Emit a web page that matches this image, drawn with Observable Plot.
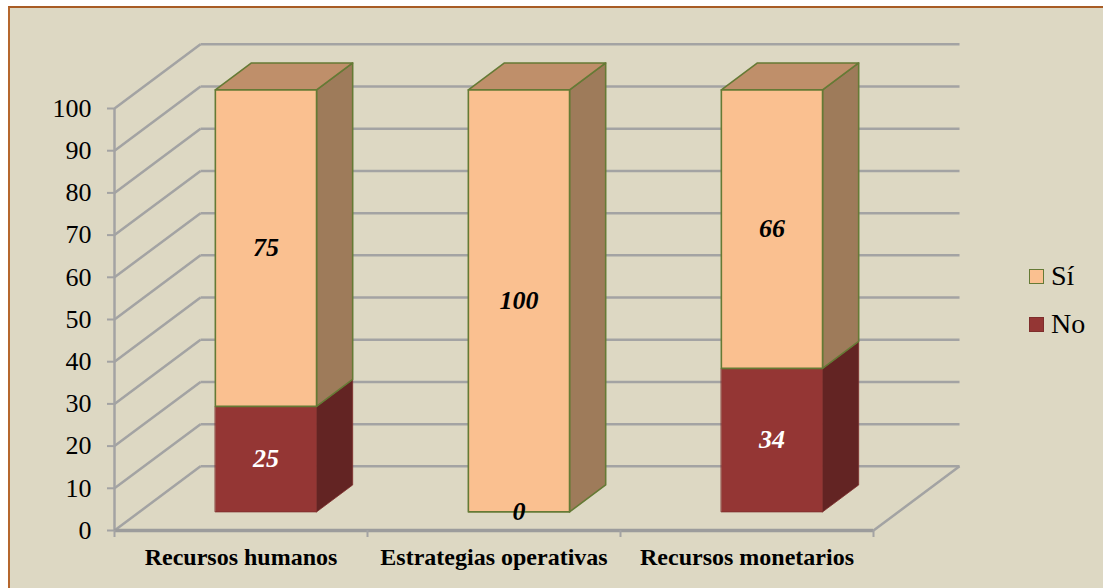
<!DOCTYPE html>
<html>
<head>
<meta charset="utf-8">
<script src="https://cdn.jsdelivr.net/npm/d3@7"></script>
<script src="https://cdn.jsdelivr.net/npm/@observablehq/plot@0.6"></script>
<style>
  body { margin:0; background:#fff; width:1103px; height:588px; overflow:hidden; position:relative;
         font-family:"Liberation Serif","Times New Roman",serif; }
  #bg { position:absolute; left:8px; top:6px; width:1120px; height:600px; background:#ddd8c3;
        border-left:2px solid #b5672e; border-top:2px solid #a85c25; }
  #chart { position:absolute; left:0; top:0; }
  .lg { position:absolute; font-size:28px; line-height:28px; color:#000; }
  .sw { position:absolute; width:13px; height:13px; }
</style>
</head>
<body>
<div id="bg"></div>
<div id="chart"></div>
<div id="legend"></div>
<script>
// ---- data ----
const categories = ["Recursos humanos", "Estrategias operativas", "Recursos monetarios"];
const seriesNames = ["Sí", "No"];
const siValues = [75, 100, 66];
const noValues = [25, 0, 34];
const yTicks = [0, 10, 20, 30, 40, 50, 60, 70, 80, 90, 100];

// ---- style / projection constants ----
const FONT = '"Liberation Serif","Times New Roman",serif';
const DX = 0.34;     // depth offset in category units (back wall)
const DY = 15.2;     // depth offset in value units (back wall)
const ZF = 0.29, ZB = 0.71, HW = 0.2;
const GRID = "#a3a3a3";
const COL = {
  "Sí": {front:"#fac090", side:"#9e7b5a", top:"#bf8f6a", stroke:"#657a35"},
  "No": {front:"#943634", side:"#632423", top:"#7a2c2a", stroke:"#7e2e2c"}
};

// stacked segments
const segs = [];
categories.forEach((c, i) => {
  const no = noValues[i], si = siValues[i];
  segs.push({cat:c, i, series:"No", value:no, y0:0, y1:no, top:false});
  segs.push({cat:c, i, series:"Sí", value:si, y0:no, y1:no+si, top:true});
});

const P = (X, Y, z) => ({x: X + z*DX, y: Y + z*DY});
const faces = [];
segs.forEach((s, k) => {
  if (s.value <= 0) return;
  const c = s.i + 0.5, L = c - HW, R = c + HW;
  const add = (face, pts) => pts.forEach(p => faces.push({id: k + face, face, series: s.series, ...p}));
  add("side", [P(R,s.y0,ZF), P(R,s.y0,ZB), P(R,s.y1,ZB), P(R,s.y1,ZF)]);
  if (s.top) add("top", [P(L,s.y1,ZF), P(R,s.y1,ZF), P(R,s.y1,ZB), P(L,s.y1,ZB)]);
  add("front", [P(L,s.y0,ZF), P(R,s.y0,ZF), P(R,s.y1,ZF), P(L,s.y1,ZF)]);
});

// walls
const wall = [];
yTicks.forEach(v => {
  wall.push({x1:0, y1:v, x2:DX, y2:v+DY});
  wall.push({x1:DX, y1:v+DY, x2:categories.length+DX, y2:v+DY});
});
wall.push({x1:categories.length, y1:0, x2:categories.length+DX, y2:DY});

const faceMarks = [];
["No", "Sí"].forEach(sn => {
  ["side", "top", "front"].forEach(f => {
    faceMarks.push(Plot.line(faces.filter(d => d.series === sn && d.face === f), {
      x:"x", y:"y", z:"id", curve:"linear-closed",
      fill: COL[sn][f], stroke: COL[sn].stroke, strokeWidth: sn === "Sí" ? 1.6 : 0.8
    }));
  });
});

const chart = Plot.plot({
  width:1103, height:588,
  marginLeft:114, marginRight:230, marginTop:108, marginBottom:58,
  x:{domain:[0, categories.length], axis:null},
  y:{domain:[0, 100], axis:null},
  style:{background:"transparent", fontFamily:FONT, overflow:"visible"},
  marks:[
    Plot.link(wall, {x1:"x1", y1:"y1", x2:"x2", y2:"y2", stroke:GRID, strokeWidth:2.5}),
    Plot.ruleX([0], {y1:0, y2:100, stroke:GRID, strokeWidth:2.5}),
    Plot.axisY({ticks:yTicks, tickSize:7, tickPadding:16, stroke:GRID, strokeWidth:2,
                fill:"#000", fontSize:26, label:null, fontFamily:FONT}),
    Plot.ruleY([0], {x1:0, x2:categories.length, stroke:"#9c9c9c", strokeWidth:3.5}),
    Plot.axisX({ticks:d3.range(categories.length + 1), tickSize:7, tickFormat:() => "",
                stroke:GRID, strokeWidth:2, label:null}),
    ...faceMarks,
    Plot.text(segs, {
      x: d => d.i + 0.5 + ZF*DX, y: d => (d.y0 + d.y1)/2 + ZF*DY,
      text: d => String(d.value),
      fill: d => (d.series === "No" && d.value > 0) ? "#ffffff" : "#000000",
      fontSize:26, fontWeight:"bold", fontStyle:"italic", fontFamily:FONT
    }),
    Plot.text(categories, {
      x:(d, i) => i + 0.5, y:0, dy:27, text:d => d,
      fontSize:24, fontWeight:"bold", fontFamily:FONT, fill:"#000"
    })
  ]
});
document.getElementById("chart").appendChild(chart);

// legend
const lg = document.getElementById("legend");
seriesNames.forEach((s, k) => {
  const top = 269 + k*48;
  const sw = document.createElement("div");
  sw.className = "sw";
  sw.style.left = "1029px"; sw.style.top = top + "px";
  sw.style.background = COL[s].front;
  sw.style.border = "1.5px solid " + (s === "Sí" ? COL[s].stroke : "#7e2e2c");
  lg.appendChild(sw);
  const t = document.createElement("div");
  t.className = "lg";
  t.style.left = "1051px"; t.style.top = (top - 7) + "px";
  t.textContent = s;
  lg.appendChild(t);
});
</script>
</body>
</html>
